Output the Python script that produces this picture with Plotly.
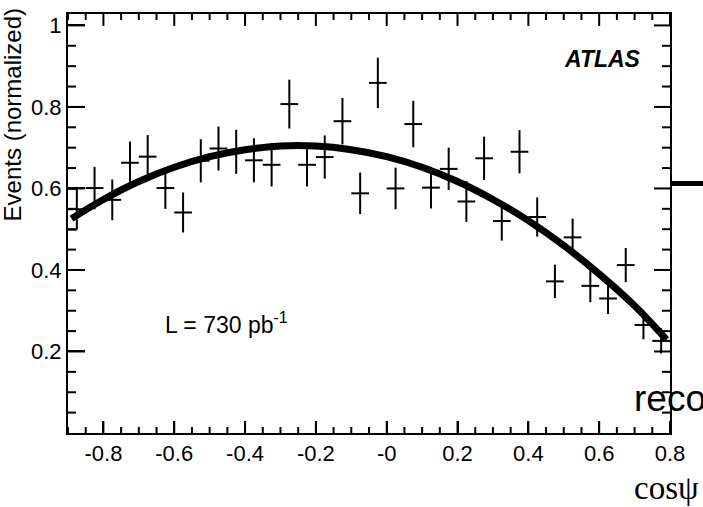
import plotly.graph_objects as go

# ---- data ----
bin_centers = [-0.875, -0.825, -0.775, -0.725, -0.675, -0.625, -0.575, -0.525,
               -0.475, -0.425, -0.375, -0.325, -0.275, -0.225, -0.175, -0.125,
               -0.075, -0.025, 0.025, 0.075, 0.125, 0.175, 0.225, 0.275,
               0.325, 0.375, 0.425, 0.475, 0.525, 0.575, 0.625, 0.675,
               0.725, 0.775]
events = [0.549, 0.601, 0.572, 0.663, 0.678, 0.601, 0.541, 0.668,
          0.698, 0.690, 0.669, 0.658, 0.807, 0.658, 0.677, 0.765,
          0.588, 0.859, 0.600, 0.758, 0.602, 0.648, 0.568, 0.674,
          0.520, 0.690, 0.530, 0.372, 0.480, 0.361, 0.330, 0.412,
          0.265, 0.226]
errors = [0.050, 0.052, 0.050, 0.052, 0.053, 0.051, 0.049, 0.053,
          0.054, 0.054, 0.054, 0.053, 0.060, 0.053, 0.053, 0.057,
          0.051, 0.062, 0.051, 0.057, 0.051, 0.052, 0.050, 0.053,
          0.048, 0.053, 0.048, 0.041, 0.046, 0.040, 0.038, 0.042,
          0.035, 0.031]
half_bin = 0.025

fit_x = [-0.89, -0.8, -0.7, -0.6, -0.5, -0.4, -0.3, -0.2, -0.1, 0.0,
         0.1, 0.2, 0.3, 0.4, 0.5, 0.6, 0.7, 0.79]
fit_y = [0.526, 0.573, 0.617, 0.652, 0.678, 0.695, 0.704, 0.704, 0.695, 0.678,
         0.652, 0.617, 0.573, 0.521, 0.460, 0.390, 0.312, 0.229]

x_tickvals = [-0.8, -0.6, -0.4, -0.2, 0.0, 0.2, 0.4, 0.6, 0.8]
x_ticktext = ["-0.8", "-0.6", "-0.4", "-0.2", "-0", "0.2", "0.4", "0.6", "0.8"]
y_tickvals = [0.2, 0.4, 0.6, 0.8, 1.0]
y_ticktext = ["0.2", "0.4", "0.6", "0.8", "1"]
minor_step = 0.05

X_RANGE = [-0.9, 0.8]
Y_RANGE = [0.0, 1.028]

FONT = "Liberation Sans, Arial, sans-serif"

# plot-area size in pixels (for tick lengths expressed in data units)
W, H = 703, 507
ML, MR, MT, MB = 68, 33, 12, 74
px_per_x = (W - ML - MR) / (X_RANGE[1] - X_RANGE[0])
px_per_y = (H - MT - MB) / (Y_RANGE[1] - Y_RANGE[0])


def minor_positions(lo, hi, majors):
    out = []
    k = int(round(lo / minor_step)) - 1
    while k * minor_step <= hi + 1e-9:
        v = round(k * minor_step, 4)
        if lo - 1e-9 <= v <= hi + 1e-9 and all(abs(v - m) > 1e-6 for m in majors):
            out.append(v)
        k += 1
    return out


x_minor = minor_positions(X_RANGE[0], X_RANGE[1], x_tickvals)
y_minor = minor_positions(Y_RANGE[0] + 1e-6, Y_RANGE[1], y_tickvals)

# tick segments drawn through the axes' own data scales
tx, ty = [], []
for vals, length_px in ((x_tickvals, 12), (x_minor, 6)):
    dl = length_px / px_per_y
    for v in vals:
        tx += [v, v, None, v, v, None]
        ty += [Y_RANGE[0], Y_RANGE[0] + dl, None, Y_RANGE[1], Y_RANGE[1] - dl, None]
for vals, left_px, right_px in ((y_tickvals, 17, 16), (y_minor, 8, 8)):
    dl = left_px / px_per_x
    dr = right_px / px_per_x
    for v in vals:
        tx += [X_RANGE[0], X_RANGE[0] + dl, None, X_RANGE[1], X_RANGE[1] - dr, None]
        ty += [v, v, None, v, v, None]

fig = go.Figure()

# first bin: end caps running to the frame (as in the reference)
x_lo = X_RANGE[0]
fig.add_trace(go.Scatter(
    x=[x_lo, bin_centers[0], None, x_lo, bin_centers[0]],
    y=[events[0] + errors[0], events[0] + errors[0], None,
       events[0] - errors[0], events[0] - errors[0]],
    mode="lines", line=dict(color="black", width=2),
    showlegend=False, hoverinfo="skip"))

fig.add_trace(go.Scatter(
    x=bin_centers, y=events, mode="markers",
    marker=dict(size=2, color="rgba(0,0,0,0)", line=dict(width=0)),
    error_y=dict(type="data", array=errors, color="black", thickness=2, width=0),
    error_x=dict(type="constant", value=half_bin, color="black", thickness=2, width=0),
    showlegend=False))

fig.add_trace(go.Scatter(
    x=fit_x, y=fit_y, mode="lines", line=dict(color="black", width=7, shape="spline"),
    showlegend=False))

fig.add_trace(go.Scatter(
    x=tx, y=ty, mode="lines", line=dict(color="black", width=2),
    showlegend=False, hoverinfo="skip"))

tickfont = dict(family=FONT, size=22, color="black")

fig.update_layout(
    width=W, height=H,
    margin=dict(l=ML, r=MR, t=MT, b=MB, pad=0),
    paper_bgcolor="white", plot_bgcolor="white",
    showlegend=False,
    xaxis=dict(range=X_RANGE, tickmode="array", tickvals=x_tickvals, ticktext=x_ticktext,
               ticks="inside", ticklen=12, tickwidth=2, tickcolor="black",
               showline=True, linecolor="black", linewidth=2, mirror=True,
               showgrid=False, zeroline=False, tickfont=tickfont),
    yaxis=dict(range=Y_RANGE, tickmode="array", tickvals=y_tickvals, ticktext=y_ticktext,
               ticks="inside", ticklen=17, tickwidth=2, tickcolor="black",
               showline=True, linecolor="black", linewidth=2, mirror=True,
               showgrid=False, zeroline=False, tickfont=tickfont),
    annotations=[
        dict(text="<b><i>ATLAS</i></b>", x=0.608, y=0.917, xref="x", yref="y",
             showarrow=False, font=dict(family=FONT, size=23, color="black"),
             xanchor="center", yanchor="middle"),
        dict(text="L = 730 pb<sup>-1</sup>", x=-0.632, y=0.271, xref="x", yref="y",
             showarrow=False, font=dict(family=FONT, size=23, color="black"),
             xanchor="left", yanchor="middle"),
        dict(text="Events (normalized)", x=-0.093, y=1.017, xref="paper", yref="paper",
             textangle=-90, showarrow=False,
             font=dict(family=FONT, size=24, color="black"),
             xanchor="center", yanchor="top"),
        dict(text="reco", x=0.937, y=0.083, xref="paper", yref="paper",
             showarrow=False, font=dict(family=FONT, size=37, color="black"),
             xanchor="left", yanchor="middle"),
        dict(text="cosψ", x=0.937, y=-0.131, xref="paper", yref="paper",
             showarrow=False, font=dict(family="Liberation Serif, Times New Roman, serif",
                                        size=33, color="black"),
             xanchor="left", yanchor="middle"),
    ],
    shapes=[
        dict(type="line", xref="paper", yref="paper", x0=1.0, x1=1.06,
             y0=0.5955, y1=0.5955, line=dict(color="black", width=5)),
    ],
)

fig.write_html("out.html")
